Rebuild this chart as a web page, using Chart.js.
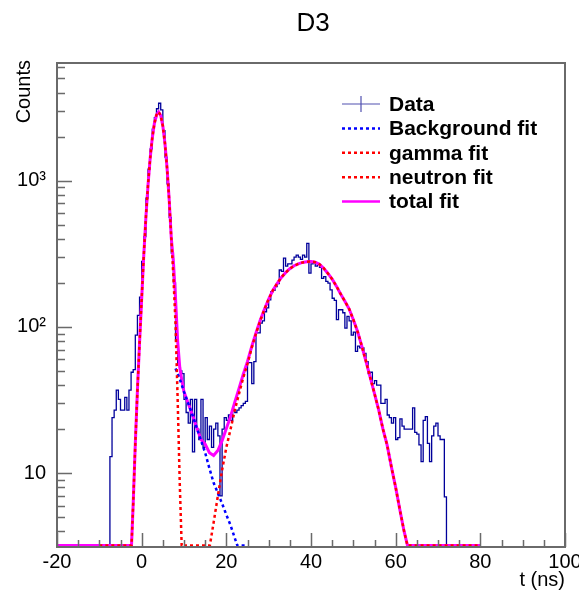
<!DOCTYPE html>
<html>
<head>
<meta charset="utf-8">
<script src="https://cdn.jsdelivr.net/npm/chart.js@4.4.0/dist/chart.umd.min.js"></script>
<style>
  html, body { margin: 0; padding: 0; background: #fff; }
</style>
</head>
<body>
<canvas id="myChart" width="579" height="590"></canvas>
<script>
// histogram: 0.5 ns bins starting at -7.5 ns
const binStart = -7.5;
const binWidth = 0.5;
const counts = [
  13, 24, 27, 37, 32, 27, 27, 33, 27, 37, 49, 51, 88, 120, 160,          // -7.5 .. 0
  280, 414, 760, 1200, 1650, 2250, 2700, 3100, 3380, 3050, 2200, 1450,   // 0 .. 6
  950, 560, 320, 200, 80, 55, 50, 48,                                    // 6 .. 10
  32, 26, 22, 32, 14, 32, 20, 17, 32, 15, 24, 17, 21, 15, 20, 22,        // 10 .. 18
  18, 7, 20, 24, 23, 25, 23, 27, 26, 27, 28, 29, 30, 31, 57, 57,         // 18 .. 26
  41, 58, 91, 91, 106, 110, 127, 135, 153, 174, 178, 189, 198, 245,      // 26 .. 33
  240, 295, 260, 270, 270, 286, 300, 310, 300, 290, 310, 300, 373, 233,  // 33 .. 40
  270, 275, 260, 270, 255, 215, 221, 205, 199, 179, 157, 152, 112, 131,  // 40 .. 47
  131, 125, 98, 118, 110, 88, 92, 68, 74, 72, 72, 66, 58, 48,            // 47 .. 54
  49, 41, 43, 40, 40, 30, 30, 32, 25, 24, 22, 24, 17, 17.5,              // 54 .. 61
  23.5, 21, 20, 20, 20, 20, 28, 19, 18.5, 15.6, 12, 23, 24.4, 16,        // 61 .. 68
  12, 18, 21, 22, 18, 17, 17, 6.9                                        // 68 .. 72
];

// fitted curves (3.2 = sits on the lower frame edge)
const bgX = [8, 9, 10, 11, 12, 13, 14, 15, 16, 17, 18, 19, 20, 21, 22, 22.6, 24.6];
const bgY = [52, 44, 36, 30, 25, 20.5, 16.8, 13.8, 10.8, 8.6, 7.3, 6.2, 5.2, 4.4, 3.6, 3.2, 3.2];

const gammaX = [-10, -2.4, -2, -1.5, -1, -0.5, 0, 0.5, 1, 1.5, 2, 2.5, 3, 3.5, 4,
  4.5, 5, 5.5, 6, 6.5, 7, 7.5, 8, 8.5, 9, 9.45, 10];
const gammaY = [3.2, 3.2, 6.2, 16, 37, 78, 155, 309, 562, 933, 1413, 1950, 2455, 2818, 2950,
  2790, 2366, 1795, 1219, 741, 404, 220, 105, 32, 8.5, 3.2, 3.2];

const neutronX = [10, 16.1, 17, 18, 19, 20, 21, 22, 23, 24, 25, 26, 27, 28, 29, 30, 31, 32, 33,
  34, 35, 36, 37, 38, 39, 40, 41, 42, 43, 44, 45, 46, 47, 48, 49, 50, 51, 52, 53, 54, 55,
  56, 57, 58, 59, 60, 61, 62, 62.8, 80];
const neutronY = [3.2, 3.2, 4.6, 7, 10.5, 15, 20, 27, 35, 45, 56, 72, 90, 110, 132, 155, 178, 198, 218,
  235, 250, 262, 270, 276, 279, 280, 277, 268, 252, 232, 212, 190, 168, 150, 133, 112, 93, 74, 58, 45, 35,
  27, 20, 15.5, 11, 8, 5.6, 4, 3.2, 3.2];

const totalX = [-20, -2.4, -2, -1.5, -1, -0.5, 0, 0.5, 1, 1.5, 2, 2.5, 3, 3.5, 4,
  4.5, 5, 5.5, 6, 6.5, 7, 7.5, 8, 8.5, 9, 9.5, 10, 11, 12, 13, 14, 15, 16, 17, 18, 19, 20,
  21, 22, 23, 24, 25, 26, 27, 28, 29, 30, 31, 32, 33, 34, 35, 36, 37, 38, 39, 40, 41, 42,
  43, 44, 45, 46, 47, 48, 49, 50, 51, 52, 53, 54, 55, 56, 57, 58, 59, 60, 61, 62, 62.8, 80];
const totalY = [3.2, 3.2, 6.2, 16, 37, 78, 155, 309, 562, 933, 1413, 1950, 2455, 2818, 2950,
  2790, 2366, 1795, 1219, 741, 404, 280, 157, 80, 53, 43, 36, 30, 25, 20.5, 17, 15.8, 13.8, 13.2, 14.3, 16.7, 20.2,
  24.4, 30.6, 38, 47.5, 58, 73.5, 91, 111, 132, 155, 178, 198, 218, 235, 250, 262, 270, 276, 279, 280, 277, 268,
  252, 232, 212, 190, 168, 150, 133, 112, 93, 74, 58, 45, 35, 27, 20, 15.5, 11, 8, 5.6, 4, 3.2, 3.2];

const xTickLabels = [-20, 0, 20, 40, 60, 80, 100];
const yTickValues = [10, 100, 1000];
const yTickLabels = ['10', '10\u00B2', '10\u00B3'];

const legendLabels = ['Data', 'Background fit', 'gamma fit', 'neutron fit', 'total fit'];
const legendColors = ['#5050b0', '#0000ff', '#ff0000', '#ff0000', '#ff00ff'];

const FONT = "'Liberation Sans', Arial, Helvetica, sans-serif";
const Y_MIN = 3.13, Y_MAX = 6370;

function pairs(xs, ys) {
  return xs.map((x, i) => ({ x: x, y: ys[i] }));
}

const histPoints = [{ x: binStart, y: 3.2 }];
counts.forEach((c, i) => histPoints.push({ x: binStart + i * binWidth, y: c }));
histPoints.push({ x: binStart + counts.length * binWidth, y: 3.2 });

// ROOT-like frame, inward ticks, title, axis titles and legend
const rootStyle = {
  id: 'rootStyle',
  afterDraw(chart) {
    const ctx = chart.ctx;
    const a = chart.chartArea;
    const xs = chart.scales.x, ys = chart.scales.y;
    ctx.save();
    ctx.strokeStyle = '#6a6a6a';
    ctx.lineWidth = 1.5;
    ctx.beginPath();
    for (let v = -20; v <= 100; v += 5) {
      const px = Math.round(xs.getPixelForValue(v)) + 0.5;
      const len = (v % 20 === 0) ? 14 : 7;
      ctx.moveTo(px, a.bottom);
      ctx.lineTo(px, a.bottom - len);
    }
    for (let d = 1; d <= 1000; d *= 10) {
      for (let m = 1; m <= 9; m++) {
        const v = d * m;
        if (v < Y_MIN || v > Y_MAX) continue;
        const py = Math.round(ys.getPixelForValue(v)) + 0.5;
        const len = (m === 1) ? 15 : 8;
        ctx.moveTo(a.left, py);
        ctx.lineTo(a.left + len, py);
      }
    }
    ctx.stroke();
    ctx.lineWidth = 2;
    ctx.strokeRect(a.left, a.top, a.right - a.left, a.bottom - a.top);

    ctx.fillStyle = '#000';
    ctx.font = '26px ' + FONT;
    ctx.textAlign = 'center';
    ctx.textBaseline = 'middle';
    ctx.fillText('D3', 313, 24);

    ctx.font = '20px ' + FONT;
    ctx.textAlign = 'right';
    ctx.textBaseline = 'alphabetic';
    ctx.fillText('t (ns)', a.right, 586);

    ctx.save();
    ctx.translate(30, a.top - 3);
    ctx.rotate(-Math.PI / 2);
    ctx.textAlign = 'right';
    ctx.fillText('Counts', 0, 0);
    ctx.restore();

    // legend
    ctx.font = 'bold 21px ' + FONT;
    ctx.textAlign = 'left';
    ctx.textBaseline = 'middle';
    legendLabels.forEach((label, i) => {
      const y = 104 + i * 24.4;
      ctx.strokeStyle = legendColors[i];
      ctx.beginPath();
      if (i === 0) {
        ctx.lineWidth = 1.2;
        ctx.setLineDash([]);
        ctx.moveTo(342, y); ctx.lineTo(380, y);
        ctx.moveTo(361, y - 8); ctx.lineTo(361, y + 8);
      } else if (i === 4) {
        ctx.lineWidth = 2.5;
        ctx.setLineDash([]);
        ctx.moveTo(342, y); ctx.lineTo(380, y);
      } else {
        ctx.lineWidth = 2.5;
        ctx.setLineDash([3, 3]);
        ctx.moveTo(342, y); ctx.lineTo(380, y);
      }
      ctx.stroke();
      ctx.setLineDash([]);
      ctx.fillStyle = '#000';
      ctx.fillText(label, 389, y + 1);
    });
    ctx.restore();
  }
};

const ctx = document.getElementById('myChart').getContext('2d');
const myChart = new Chart(ctx, {
  type: 'line',
  data: {
    datasets: [
      {
        label: 'Data',
        data: histPoints,
        borderColor: '#00009a',
        borderWidth: 1.3,
        stepped: true,
        pointRadius: 0,
        order: 5
      },
      {
        label: 'total fit',
        data: pairs(totalX, totalY),
        borderColor: '#ff00ff',
        borderWidth: 3,
        pointRadius: 0,
        order: 4
      },
      {
        label: 'Background fit',
        data: pairs(bgX, bgY),
        borderColor: '#0000ff',
        borderWidth: 2.5,
        borderDash: [3, 3],
        pointRadius: 0,
        order: 3
      },
      {
        label: 'gamma fit',
        data: pairs(gammaX, gammaY),
        borderColor: '#ff0000',
        borderWidth: 2.5,
        borderDash: [3, 3],
        pointRadius: 0,
        order: 2
      },
      {
        label: 'neutron fit',
        data: pairs(neutronX, neutronY),
        borderColor: '#ff0000',
        borderWidth: 2.5,
        borderDash: [3, 3],
        pointRadius: 0,
        order: 1
      }
    ]
  },
  options: {
    responsive: false,
    devicePixelRatio: 1,
    animation: false,
    events: [],
    layout: { padding: { left: 0, right: 14, top: 63, bottom: 0 } },
    elements: { line: { tension: 0, fill: false } },
    scales: {
      x: {
        type: 'linear',
        position: 'bottom',
        min: -20,
        max: 100,
        grid: { display: false, drawTicks: false },
        border: { display: false },
        afterBuildTicks: scale => { scale.ticks = xTickLabels.map(v => ({ value: v })); },
        ticks: {
          autoSkip: false,
          maxRotation: 0,
          padding: 3,
          color: '#000',
          font: { family: FONT, size: 20 }
        },
        afterFit: scale => { scale.height = 43; scale.paddingLeft = 0; scale.paddingRight = 0; }
      },
      y: {
        type: 'logarithmic',
        min: Y_MIN,
        max: Y_MAX,
        grid: { display: false, drawTicks: false },
        border: { display: false },
        afterBuildTicks: scale => { scale.ticks = yTickValues.map(v => ({ value: v })); },
        ticks: {
          autoSkip: false,
          padding: 11,
          color: '#000',
          font: { family: FONT, size: 20 },
          callback: value => yTickLabels[yTickValues.indexOf(value)]
        },
        afterFit: scale => { scale.width = 57; scale.paddingTop = 0; scale.paddingBottom = 0; }
      }
    },
    plugins: {
      legend: { display: false },
      tooltip: { enabled: false },
      title: { display: false }
    }
  },
  plugins: [rootStyle]
});
</script>
</body>
</html>
